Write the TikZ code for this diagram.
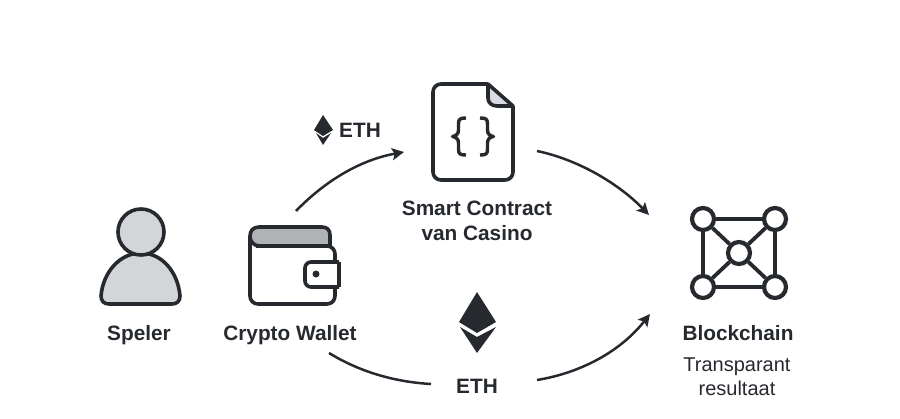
\documentclass[tikz,border=0pt]{standalone}
\usepackage{fontspec}
\setmainfont{Liberation Sans}
\usetikzlibrary{arrows.meta}

\definecolor{ink}{HTML}{26292E}
\definecolor{softgray}{HTML}{D3D5D8}
\definecolor{flapgray}{HTML}{B0B2B6}
\definecolor{foldgray}{HTML}{D9DAE3}

\begin{document}
\begin{tikzpicture}[x=1pt,y=-1pt,>={Stealth[length=12pt,width=12pt,inset=2.5pt]},
  icon/.style={draw=ink,line width=3.6pt,line join=round},
  brace/.style={draw=ink,line width=3.4pt,line join=round},
  flow/.style={draw=ink,line width=2.5pt},
  title node/.style={anchor=base,text=ink,font=\fontsize{20.8}{25}\selectfont\bfseries,align=center},
  plain node/.style={anchor=base,text=ink,font=\fontsize{20}{23.5}\selectfont,align=center},
  chain node/.style={circle,draw=ink,fill=white,line width=4.2pt,minimum size=22pt,inner sep=0pt}]

  \useasboundingbox (0,0) rectangle (900,418);

  % speler
  \draw[icon,fill=softgray] (109,304) .. controls (104,304) and (101,301) .. (101,296)
    .. controls (103,272) and (120,253) .. (141,253)
    .. controls (162,253) and (178,272) .. (180,296)
    .. controls (180,301) and (177,304) .. (172,304) -- cycle;
  \node[circle,icon,fill=softgray,minimum size=46pt,inner sep=0pt] (head) at (141,232) {};
  \node[title node] (speler) at (139,340) {Speler};

  % wallet
  \draw[icon,fill=white,rounded corners=8pt] (250,236) -- (250,304) -- (335,304) -- (335,246) -- (256,246);
  \draw[icon,fill=flapgray] (330,246) -- (330,235) .. controls (330,230) and (327,227) .. (322,227)
    -- (259,227) .. controls (253,227) and (250,231) .. (250,236)
    .. controls (250,242) and (254,246) .. (260,246) -- cycle;
  \draw[icon,fill=white,rounded corners=6pt] (339,262) -- (305,262) -- (305,287) -- (339,287);
  \draw[icon] (339,262) -- (339,287);
  \node[circle,fill=ink,minimum size=7pt,inner sep=0pt] (clasp) at (316,274) {};
  \node[title node] (wallet) at (290,340) {Crypto Wallet};

  % contract
  \draw[icon,fill=white,rounded corners=8pt] (488,84) -- (433,84) -- (433,180) -- (513,180) -- (513,106);
  \draw[icon,fill=foldgray] (488,84) -- (513,106) -- (497,106) .. controls (492,106) and (488,103) .. (488,98) -- cycle;
  \draw[brace] (466,118) .. controls (460,118) and (458.5,119) .. (458.5,124) -- (458.5,130)
    .. controls (458.5,134) and (456,136) .. (452.5,136.5)
    .. controls (456,137) and (458.5,139) .. (458.5,143) -- (458.5,149)
    .. controls (458.5,154) and (460,155) .. (466,155);
  \draw[brace] (480,118) .. controls (486,118) and (487.5,119) .. (487.5,124) -- (487.5,130)
    .. controls (487.5,134) and (490,136) .. (493.5,136.5)
    .. controls (490,137) and (487.5,139) .. (487.5,143) -- (487.5,149)
    .. controls (487.5,154) and (486,155) .. (480,155);
  \node[title node] (contract) at (477,240.5) {Smart Contract\\van Casino};

  % eth boven
  \fill[ink] (323,115) -- (333,130) -- (323,136) -- (314,130) -- cycle;
  \fill[ink] (316,133) -- (323,138) -- (331,133) -- (323,145) -- cycle;
  \node[title node] (ethtop) at (360,137) {ETH};

  % eth onder
  \fill[ink] (477,292) -- (496,322) -- (477,333) -- (459,322) -- cycle;
  \fill[ink] (460,327) -- (477,337) -- (496,327) -- (477,353) -- cycle;
  \node[title node] (ethbottom) at (477,393) {ETH};

  % blockchain
  \node[chain node] (n1) at (703,219) {};
  \node[chain node] (n2) at (775,219) {};
  \node[chain node] (n3) at (703,287) {};
  \node[chain node] (n4) at (775,287) {};
  \node[chain node] (n5) at (739,253) {};
  \path[draw=ink,line width=3.8pt]
    (n1) edge (n2)
    (n1) edge (n3)
    (n2) edge (n4)
    (n3) edge (n4)
    (n1) edge (n5)
    (n2) edge (n5)
    (n3) edge (n5)
    (n4) edge (n5);
  \node[title node] (blockchain) at (738,340) {Blockchain};
  \node[plain node] (result) at (737,395) {Transparant\\resultaat};

  % pijlen
  \coordinate (a1) at (296,211);
  \coordinate (a2) at (404,152);
  \coordinate (b1) at (537,151);
  \coordinate (b2) at (649,215);
  \coordinate (c1) at (329,353);
  \coordinate (c2) at (431,384);
  \coordinate (d1) at (537,380);
  \coordinate (d2) at (650,314);
  \draw[flow,->] (a1) .. controls (325,181) and (360,160) .. (a2);
  \draw[flow,->] (b1) .. controls (580,160) and (620,185) .. (b2);
  \draw[flow] (c1) .. controls (360,372) and (395,382) .. (c2);
  \draw[flow,->] (d1) .. controls (580,373) and (620,352) .. (d2);
\end{tikzpicture}
\end{document}
